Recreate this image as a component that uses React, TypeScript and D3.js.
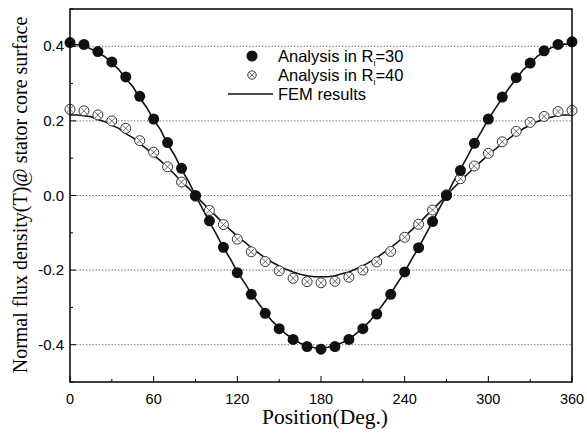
import React from "react";
import * as d3 from "d3";

const positions = d3.range(0, 361, 10);
const r30Values = [0.41, 0.405, 0.386, 0.358, 0.318, 0.266, 0.205, 0.142, 0.073, 0.0, -0.068, -0.139, -0.207, -0.265, -0.316, -0.357, -0.386, -0.405, -0.412, -0.405, -0.386, -0.357, -0.318, -0.265, -0.205, -0.14, -0.07, 0.0, 0.067, 0.14, 0.205, 0.264, 0.316, 0.355, 0.388, 0.405, 0.412];
const r40Values = [0.231, 0.227, 0.216, 0.2, 0.18, 0.147, 0.116, 0.077, 0.036, -0.002, -0.04, -0.078, -0.117, -0.151, -0.177, -0.202, -0.222, -0.231, -0.234, -0.23, -0.219, -0.2, -0.178, -0.15, -0.112, -0.077, -0.039, 0.002, 0.045, 0.079, 0.113, 0.144, 0.172, 0.196, 0.212, 0.225, 0.228];

const femPositions = d3.range(0, 361, 5);
const femR30 = [0.405, 0.404, 0.402, 0.393, 0.383, 0.372, 0.355, 0.338, 0.313, 0.292, 0.262, 0.236, 0.203, 0.176, 0.138, 0.108, 0.07, 0.038, 0.0, -0.035, -0.071, -0.104, -0.14, -0.17, -0.205, -0.233, -0.263, -0.288, -0.313, -0.337, -0.354, -0.372, -0.384, -0.396, -0.402, -0.408, -0.408, -0.407, -0.402, -0.395, -0.385, -0.371, -0.355, -0.337, -0.314, -0.289, -0.263, -0.234, -0.205, -0.171, -0.14, -0.105, -0.071, -0.034, 0.0, 0.037, 0.071, 0.104, 0.14, 0.171, 0.205, 0.233, 0.262, 0.289, 0.313, 0.337, 0.354, 0.373, 0.384, 0.396, 0.402, 0.406, 0.405];
const femR40 = [0.216, 0.216, 0.214, 0.211, 0.204, 0.198, 0.188, 0.18, 0.166, 0.155, 0.139, 0.125, 0.108, 0.093, 0.074, 0.057, 0.037, 0.02, 0.0, -0.019, -0.038, -0.056, -0.075, -0.092, -0.109, -0.124, -0.14, -0.154, -0.167, -0.179, -0.189, -0.198, -0.205, -0.211, -0.215, -0.218, -0.218, -0.218, -0.215, -0.21, -0.205, -0.197, -0.189, -0.178, -0.167, -0.153, -0.14, -0.125, -0.109, -0.093, -0.075, -0.056, -0.038, -0.019, 0.0, 0.02, 0.038, 0.057, 0.075, 0.092, 0.109, 0.124, 0.14, 0.153, 0.167, 0.179, 0.189, 0.198, 0.205, 0.21, 0.215, 0.216, 0.216];

const xTicks = [0, 60, 120, 180, 240, 300, 360];
const xMinor = [30, 90, 150, 210, 270, 330];
const yTicks = [-0.4, -0.2, 0.0, 0.2, 0.4];
const yMinor = [-0.5, -0.3, -0.1, 0.1, 0.3, 0.5];

const SANS = "'Liberation Sans', Arial, sans-serif";
const SERIF = "'Liberation Serif', 'Times New Roman', serif";

const L = 70, R = 572, T = 9, B = 382;

function OpenMarker({ x, y, r = 5 }: { x: number; y: number; r?: number }) {
  const d = r * 0.62;
  return (
    <g>
      <circle cx={x} cy={y} r={r} fill="white" stroke="#333" strokeWidth={1} />
      <line x1={x - d} y1={y - d} x2={x + d} y2={y + d} stroke="#444" strokeWidth={0.8} />
      <line x1={x - d} y1={y + d} x2={x + d} y2={y - d} stroke="#444" strokeWidth={0.8} />
    </g>
  );
}

export default function App() {
  const x = d3.scaleLinear().domain([0, 360]).range([L, R]);
  const y = d3.scaleLinear().domain([-0.5, 0.5]).range([B, T]);
  const line = d3
    .line<[number, number]>()
    .x((d) => x(d[0]))
    .y((d) => y(d[1]));
  const fem30 = femPositions.map((p, i) => [p, femR30[i]] as [number, number]);
  const fem40 = femPositions.map((p, i) => [p, femR40[i]] as [number, number]);

  return (
    <svg
      width={587}
      height={434}
      style={{ position: "absolute", left: 0, top: 0, background: "white" }}
    >
      <rect x={0} y={0} width={587} height={434} fill="white" />
      {yTicks.map((t) => (
        <line
          key={"g" + t}
          x1={L}
          x2={R}
          y1={y(t)}
          y2={y(t)}
          stroke="#555"
          strokeWidth={1}
          strokeDasharray="1.2 2"
        />
      ))}
      {xTicks.map((t) => (
        <line key={"xt" + t} x1={x(t)} x2={x(t)} y1={B} y2={B - 6} stroke="#000" strokeWidth={1} />
      ))}
      {xMinor.map((t) => (
        <line key={"xm" + t} x1={x(t)} x2={x(t)} y1={B} y2={B - 3} stroke="#000" strokeWidth={1} />
      ))}
      {yTicks.map((t) => (
        <line key={"yt" + t} x1={L} x2={L + 6} y1={y(t)} y2={y(t)} stroke="#000" strokeWidth={1} />
      ))}
      {yMinor.map((t) => (
        <line key={"ym" + t} x1={L} x2={L + 3} y1={y(t)} y2={y(t)} stroke="#000" strokeWidth={1} />
      ))}
      <path d={line(fem30) || ""} fill="none" stroke="#111" strokeWidth={1.6} />
      <path d={line(fem40) || ""} fill="none" stroke="#111" strokeWidth={1.6} />
      {positions.map((p, i) => (
        <OpenMarker key={"o" + p} x={x(p)} y={y(r40Values[i])} />
      ))}
      {positions.map((p, i) => (
        <circle key={"f" + p} cx={x(p)} cy={y(r30Values[i])} r={5.5} fill="#111" />
      ))}
      <rect x={L} y={T} width={R - L} height={B - T} fill="none" stroke="#000" strokeWidth={1.5} />
      {xTicks.map((t) => (
        <text
          key={"xl" + t}
          x={x(t)}
          y={403.5}
          textAnchor="middle"
          fontFamily={SANS}
          fontSize={14.5}
          fill="#000"
        >
          {t}
        </text>
      ))}
      {yTicks.map((t) => (
        <text
          key={"yl" + t}
          x={L - 6}
          y={y(t) + 5}
          textAnchor="end"
          fontFamily={SANS}
          fontSize={15}
          fill="#000"
        >
          {t.toFixed(1)}
        </text>
      ))}
      <text x={325} y={424} textAnchor="middle" fontFamily={SERIF} fontSize={21.5} fill="#000">
        Position(Deg.)
      </text>
      <text
        transform={`translate(27,${195}) rotate(-90)`}
        textAnchor="middle"
        fontFamily={SERIF}
        fontSize={20}
        fill="#000"
      >
        Normal flux density(T)@ stator core surface
      </text>
      <circle cx={252} cy={56} r={5.5} fill="#111" />
      <text x={278} y={61.5} fontFamily={SANS} fontSize={16.5} fill="#000">
        Analysis in R<tspan fontSize={9} dy={4}>i</tspan><tspan dy={-4}>=30</tspan>
      </text>
      <OpenMarker x={252} y={75} r={4.2} />
      <text x={278} y={80.5} fontFamily={SANS} fontSize={16.5} fill="#000">
        Analysis in R<tspan fontSize={9} dy={4}>i</tspan><tspan dy={-4}>=40</tspan>
      </text>
      <line x1={228} x2={273} y1={94} y2={94} stroke="#111" strokeWidth={1.6} />
      <text x={278} y={99.5} fontFamily={SANS} fontSize={16.5} fill="#000">
        FEM results
      </text>
    </svg>
  );
}
